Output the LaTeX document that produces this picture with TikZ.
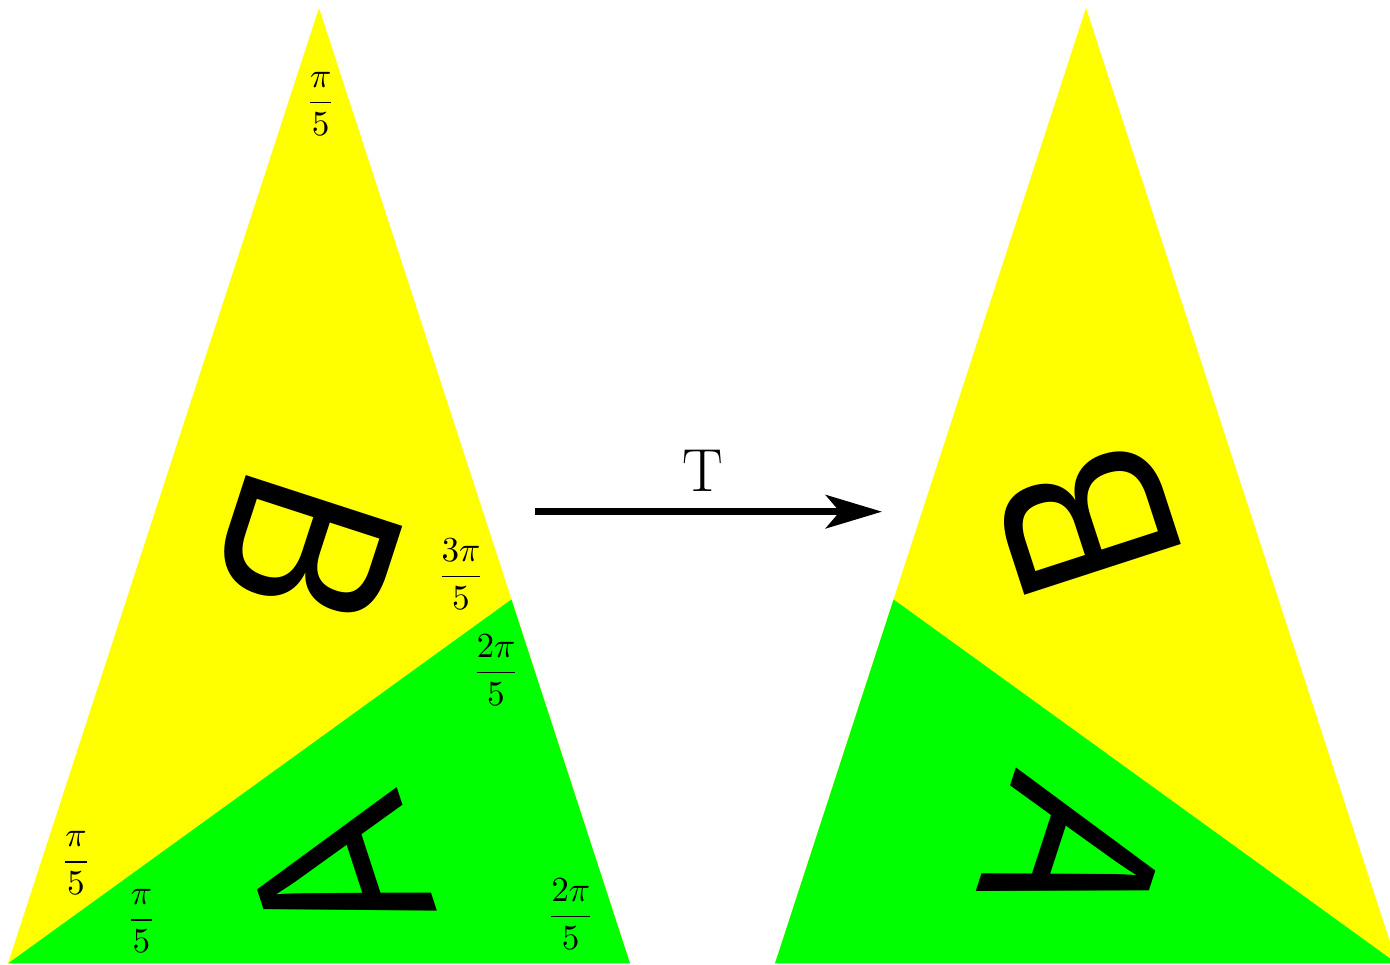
\documentclass[tikz,border=0pt]{standalone}
\usepackage{fontspec}
\newfontfamily\letterfont{Liberation Sans}
\usetikzlibrary{arrows.meta}
\definecolor{tileyellow}{rgb}{1,1,0}
\definecolor{tilegreen}{rgb}{0,1,0}
\begin{document}
\begin{tikzpicture}[x=0.01cm,y=-0.01cm,
  lbl/.style={anchor=base,inner sep=0pt},
  bigletter/.style={inner sep=0pt,font=\letterfont\fontsize{68}{68}\selectfont},
  maparrow/.style={line width=1.9pt,-{Stealth[length=16pt,width=9.5pt,inset=4pt]}}]
\clip (0,0) rectangle (1390,965);
% left triangle
\coordinate (LA) at (319,8);
\coordinate (LB) at (8,963.5);
\coordinate (LC) at (630,963.5);
\coordinate (LD) at (511.4,599.5);
\fill[tileyellow] (LA) -- (LB) -- (LC) -- cycle;
\fill[tilegreen] (LB) -- (LC) -- (LD) -- cycle;
% right triangle
\coordinate (RA) at (1086,8);
\coordinate (RB) at (775,963.5);
\coordinate (RC) at (1397,963.5);
\coordinate (RD) at (893.6,599.5);
\fill[tileyellow] (RA) -- (RB) -- (RC) -- cycle;
\fill[tilegreen] (RB) -- (RC) -- (RD) -- cycle;
% letters
\node[bigletter,rotate=-108] (B1) at (309,550) {\scalebox{0.86}[1]{B}};
\node[bigletter,rotate=108] (A1) at (339,875) {\scalebox{0.82}[1]{A}};
\node[bigletter,rotate=108] (B2) at (1087,521) {\scalebox{0.86}[1]{B}};
\node[bigletter,rotate=-108] (A2) at (1075,855) {\scalebox{0.82}[1]{A}};
% angle labels
\node[lbl] (f1) at (320.7,111.5) {$\displaystyle\frac{\pi}{5}$};
\node[lbl] (f2) at (461,585.5) {$\displaystyle\frac{3\pi}{5}$};
\node[lbl] (f3) at (496,681.5) {$\displaystyle\frac{2\pi}{5}$};
\node[lbl] (f4) at (76,870.8) {$\displaystyle\frac{\pi}{5}$};
\node[lbl] (f5) at (141.5,928.8) {$\displaystyle\frac{\pi}{5}$};
\node[lbl] (f6) at (570.7,925.5) {$\displaystyle\frac{2\pi}{5}$};
% map arrow
\coordinate (s) at (535,511.7);
\coordinate (e) at (882,511.7);
\draw[maparrow] (s) -- (e);
\node[anchor=base,inner sep=0pt,font=\LARGE] (T) at (703,491.7) {T};
\end{tikzpicture}
\end{document}
